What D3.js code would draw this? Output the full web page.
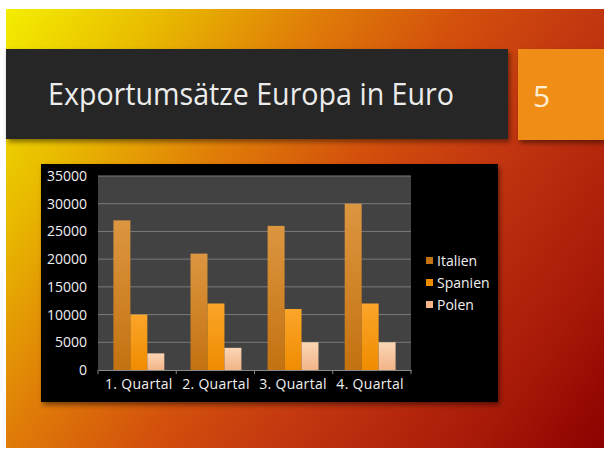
<!DOCTYPE html>
<html>
<head>
<meta charset="utf-8">
<title>Exportumsätze Europa in Euro</title>
<script src="https://d3js.org/d3.v7.min.js"></script>
<style>
  body { margin: 0; background: #fff; }
  svg { display: block; }
</style>
</head>
<body>
<script>
  var quarters = ["1. Quartal", "2. Quartal", "3. Quartal", "4. Quartal"];
  var countries = ["Italien", "Spanien", "Polen"];
  var italien = [27000, 21000, 26000, 30000];
  var spanien = [10000, 12000, 11000, 12000];
  var polen = [3000, 4000, 5000, 5000];
  var yTicks = [0, 5000, 10000, 15000, 20000, 25000, 30000, 35000];

  var series = [italien, spanien, polen];
  var width = 604, height = 457;

  var svg = d3.select("body").append("svg")
    .attr("width", width).attr("height", height);
  var defs = svg.append("defs");

  // slide background
  var bg = defs.append("linearGradient").attr("id", "bg")
    .attr("gradientUnits", "userSpaceOnUse")
    .attr("x1", 6).attr("y1", 9).attr("x2", 604).attr("y2", 448);
  [[0, "#f4ee00"], [0.18, "#e8b800"], [0.34, "#e07e08"], [0.5, "#d3500c"],
   [0.65, "#c23610"], [0.85, "#a81a08"], [1, "#8c0000"]].forEach(function(s) {
    bg.append("stop").attr("offset", s[0]).attr("stop-color", s[1]);
  });

  var shadow = defs.append("filter").attr("id", "shadow")
    .attr("x", "-5%").attr("y", "-10%").attr("width", "115%").attr("height", "130%");
  shadow.append("feDropShadow").attr("dx", 2).attr("dy", 3)
    .attr("stdDeviation", 2.5).attr("flood-color", "#000").attr("flood-opacity", 0.45);

  var barColors = [["#dc9640", "#c47210"], ["#fba52a", "#f08c00"], ["#fbd6b4", "#f2b488"]];
  barColors.forEach(function(c, i) {
    var g = defs.append("linearGradient").attr("id", "bar" + i)
      .attr("x1", 0).attr("y1", 0).attr("x2", 0).attr("y2", 1);
    g.append("stop").attr("offset", 0).attr("stop-color", c[0]);
    g.append("stop").attr("offset", 1).attr("stop-color", c[1]);
  });

  svg.append("rect").attr("x", 6).attr("y", 9).attr("width", 598).attr("height", 439)
    .attr("fill", "url(#bg)");

  // title bars
  svg.append("rect").attr("x", 6).attr("y", 49).attr("width", 502).attr("height", 90)
    .attr("fill", "#262626").attr("filter", "url(#shadow)");
  svg.append("rect").attr("x", 518).attr("y", 49).attr("width", 86).attr("height", 91)
    .attr("fill", "#ef8d14").attr("filter", "url(#shadow)");
  svg.append("text").attr("x", 48).attr("y", 105)
    .attr("font-family", "Open Sans").attr("font-size", 31)
    .attr("fill", "#ececec")
    .attr("textLength", 406).attr("lengthAdjust", "spacingAndGlyphs")
    .text("Exportumsätze Europa in Euro");
  svg.append("text").attr("x", 533).attr("y", 107)
    .attr("font-family", "Open Sans").attr("font-size", 30)
    .attr("fill", "#fbeed0")
    .text("5");

  // chart frame
  svg.append("rect").attr("x", 41).attr("y", 164).attr("width", 457).attr("height", 238)
    .attr("fill", "#000").attr("filter", "url(#shadow)");

  var plot = { left: 98, right: 411, top: 176, bottom: 370 };

  var x0 = d3.scaleBand().domain(quarters)
    .range([plot.left, plot.right]).paddingInner(0.34).paddingOuter(0.2);
  var x1 = d3.scaleBand().domain(d3.range(countries.length))
    .range([0, x0.bandwidth()]);
  var y = d3.scaleLinear().domain([0, 35000]).range([plot.bottom, plot.top]);

  svg.append("rect").attr("x", plot.left).attr("y", plot.top)
    .attr("width", plot.right - plot.left).attr("height", plot.bottom - plot.top)
    .attr("fill", "#424242");

  svg.append("g").selectAll("line").data(yTicks.slice(1)).enter().append("line")
    .attr("x1", plot.left).attr("x2", plot.right)
    .attr("y1", function(d) { return y(d); }).attr("y2", function(d) { return y(d); })
    .attr("stroke", "#7a7a7a").attr("stroke-width", 1);

  // bars
  var groups = svg.append("g").selectAll("g").data(quarters).enter().append("g")
    .attr("transform", function(d) { return "translate(" + x0(d) + ",0)"; });
  groups.selectAll("rect")
    .data(function(d, qi) { return series.map(function(s, si) { return { si: si, v: s[qi] }; }); })
    .enter().append("rect")
    .attr("x", function(d) { return x1(d.si); })
    .attr("width", x1.bandwidth())
    .attr("y", function(d) { return y(d.v); })
    .attr("height", function(d) { return plot.bottom - y(d.v); })
    .attr("fill", function(d) { return "url(#bar" + d.si + ")"; });

  // axes
  var yAxis = svg.append("g").attr("transform", "translate(" + plot.left + ",0)")
    .call(d3.axisLeft(y).tickValues(yTicks).tickFormat(d3.format("d")).tickSize(0).tickPadding(11));
  yAxis.select(".domain").remove();
  yAxis.selectAll("text").attr("fill", "#f0f0f0")
    .attr("font-family", "Open Sans").attr("font-size", 14);

  var xAxis = svg.append("g").attr("transform", "translate(0," + plot.bottom + ")")
    .call(d3.axisBottom(x0).tickSize(0).tickPadding(9));
  xAxis.select(".domain").attr("stroke", "#8a8a8a");
  xAxis.selectAll("text").attr("fill", "#f0f0f0")
    .attr("font-family", "Open Sans").attr("font-size", 14)
    .attr("letter-spacing", 0.3);
  xAxis.selectAll(".sep").data(d3.range(quarters.length + 1)).enter().append("line")
    .attr("class", "sep")
    .attr("x1", function(i) { return plot.left + i * (plot.right - plot.left) / quarters.length; })
    .attr("x2", function(i) { return plot.left + i * (plot.right - plot.left) / quarters.length; })
    .attr("y1", 0).attr("y2", 4).attr("stroke", "#8a8a8a");

  // legend
  var legend = svg.append("g").selectAll("g").data(countries).enter().append("g")
    .attr("transform", function(d, i) { return "translate(426," + (261 + i * 22) + ")"; });
  legend.append("rect").attr("x", 0).attr("y", -4).attr("width", 7).attr("height", 7)
    .attr("fill", function(d, i) { return barColors[i][1]; });
  legend.append("text").attr("x", 11).attr("y", 5)
    .attr("font-family", "Open Sans").attr("font-size", 14).attr("fill", "#f0f0f0")
    .text(function(d) { return d; });
</script>
</body>
</html>
